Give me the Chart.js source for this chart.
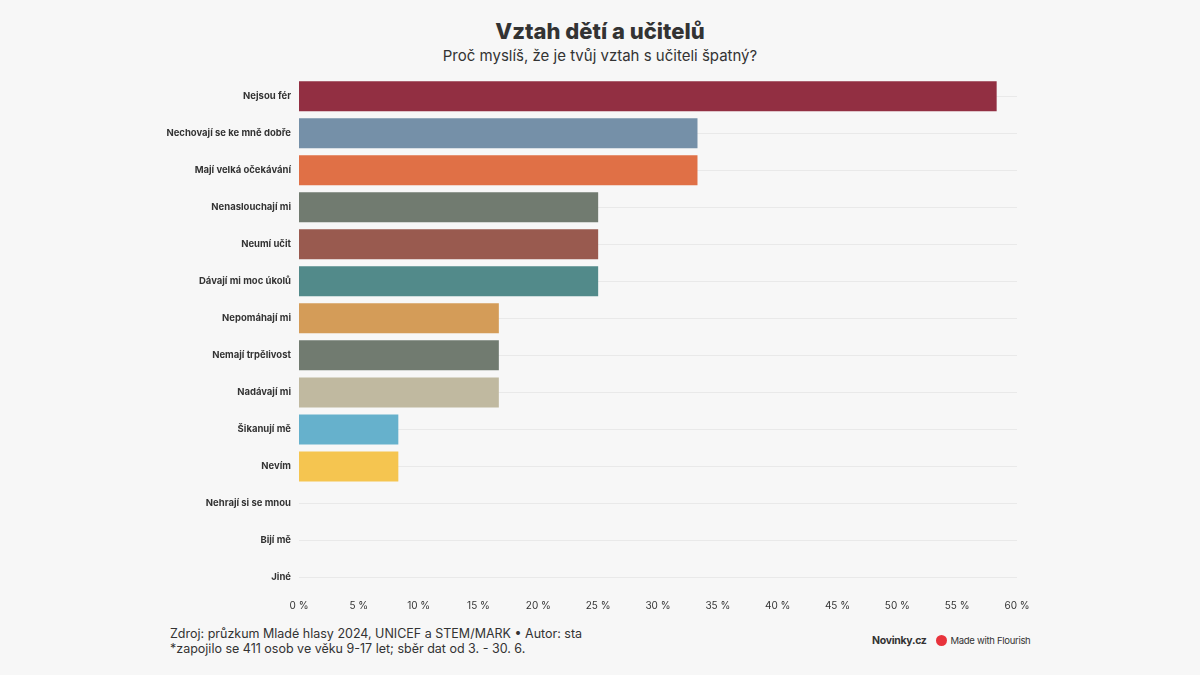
<!DOCTYPE html>
<html lang="cs">
<head>
<meta charset="utf-8">
<script src="https://cdn.jsdelivr.net/npm/chart.js@4"></script>
<style>
  html, body { margin: 0; padding: 0; background: #f7f7f7; }
  body { width: 1200px; height: 675px; position: relative; overflow: hidden; font-family: Inter, "Noto Sans", sans-serif; color: #333; }
  .title { position: absolute; top: 18px; left: 0; width: 1200px; text-align: center; font-size: 22px; font-weight: 800; color: #333; }
  .subtitle { position: absolute; top: 46px; left: 0; width: 1200px; text-align: center; font-size: 15px; color: #333; }
  .chart-box { position: absolute; left: 150px; top: 64px; width: 890px; height: 554px; }
  .footer { position: absolute; left: 170px; top: 626px; font-size: 12.5px; line-height: 15px; color: #333; }
  .brand { position: absolute; left: 872px; top: 634px; font-size: 9.5px; color: #333; display: flex; align-items: center; letter-spacing: -0.3px; }
  .brand b { font-weight: 700; font-size: 10.5px; margin-right: 9px; }
  .brand .dot { width: 11px; height: 11px; border-radius: 50%; background: #e8333c; margin-right: 4px; }
</style>
</head>
<body>
<div class="title">Vztah dětí a učitelů</div>
<div class="subtitle">Proč myslíš, že je tvůj vztah s učiteli špatný?</div>
<div class="chart-box"><canvas id="chart"></canvas></div>
<div class="footer">Zdroj: průzkum Mladé hlasy 2024, UNICEF a STEM/MARK • Autor: sta<br>*zapojilo se 411 osob ve věku 9-17 let; sběr dat od 3. - 30. 6.</div>
<div class="brand"><b>Novinky.cz</b><span class="dot"></span>Made with Flourish</div>
<script>
(function () {
  "use strict";

  const categories = [
    "Nejsou fér",
    "Nechovají se ke mně dobře",
    "Mají velká očekávání",
    "Nenaslouchají mi",
    "Neumí učit",
    "Dávají mi moc úkolů",
    "Nepomáhají mi",
    "Nemají trpělivost",
    "Nadávají mi",
    "Šikanují mě",
    "Nevím",
    "Nehrají si se mnou",
    "Bijí mě",
    "Jiné",
  ];
  const values = [58.3, 33.3, 33.3, 25, 25, 25, 16.7, 16.7, 16.7, 8.3, 8.3, 0, 0, 0];
  const barColors = [
    "#922f42", "#7590a8", "#e07046", "#717b70", "#995a4f", "#528a8a",
    "#d49c58", "#717b70", "#c0b9a0", "#66b1cc", "#f5c550", "#999999", "#999999", "#999999",
  ];
  const xTicks = [0, 5, 10, 15, 20, 25, 30, 35, 40, 45, 50, 55, 60];

  new Chart(document.getElementById("chart"), {
    type: "bar",
    data: {
      labels: categories,
      datasets: [
        {
          data: values,
          backgroundColor: barColors,
          borderWidth: 0,
          categoryPercentage: 1,
          barPercentage: 0.81,
        },
      ],
    },
    options: {
      indexAxis: "y",
      responsive: true,
      maintainAspectRatio: false,
      animation: false,
      layout: { padding: { top: 0, right: 23, bottom: 0, left: 0 } },
      plugins: {
        legend: { display: false },
        tooltip: { enabled: false },
      },
      scales: {
        x: {
          min: 0,
          max: 60,
          afterBuildTicks: (scale) => {
            scale.ticks = xTicks.map((v) => ({ value: v }));
          },
          afterFit: (scale) => { scale.height = 22; },
          grid: { display: false, drawTicks: false },
          border: { display: false },
          ticks: {
            color: "#333",
            font: { family: "Inter", size: 10 },
            padding: 4,
            callback: (v) => v + " %",
          },
        },
        y: {
          afterFit: (scale) => { scale.width = 149; },
          grid: { offset: false, color: "#e9e9e9", drawTicks: false },
          border: { display: false },
          ticks: {
            color: "#333",
            font: { family: "Inter", size: 9.5, weight: "bold" },
            padding: 8,
          },
        },
      },
    },
  });
})();
</script>
</body>
</html>
